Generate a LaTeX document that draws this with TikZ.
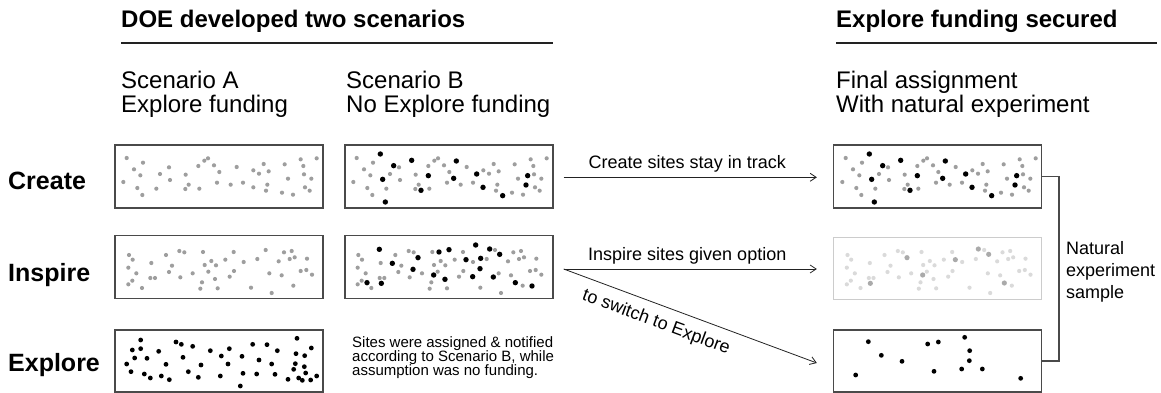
\documentclass[tikz,border=0pt]{standalone}
\usepackage{fontspec}
\setmainfont{Liberation Sans}
\usetikzlibrary{arrows.meta}

\definecolor{boxline}{HTML}{4A4A4A}
\definecolor{fadedline}{HTML}{CCCCCC}
\definecolor{dotgray}{HTML}{9E9E9E}
\definecolor{dotfaint}{HTML}{DADADA}
\definecolor{dotmid}{HTML}{AAAAAA}
\definecolor{inkline}{HTML}{222222}

% dot positions, in units of 1/3 px from the given origin
\def\creategray{50/54,99/68,72/88,91/106,40/126,82/144,97/165,139/146,150/102,177/82,180/120,227/104,236/134,226/147,268/146,265/78,283/62,294/55,312/76,328/96,321/128,362/134,380/81,399/128,430/91,447/101,461/72,476/94,472/134,468/152,430/142,516/158,524/73,534/116,549/164,572/58,580/78,582/103,604/116,585/142,599/152,620/55}
\def\createblack{121/42,161/77,128/118,136/186,215/61,265/107,243/151,349/63,341/115,410/102,429/142,488/167,563/107,558/135}
\def\inspiregray{57/75,68/89,55/113,79/130,67/152,55/163,96/174,124/99,121/144,135/144,168/75,186/107,177/126,208/63,223/67,211/142,248/130,279/66,284/105,304/93,318/106,295/125,315/147,276/157,271/176,323/175,346/89,371/66,372/123,359/140,401/96,423/173,442/87,467/60,478/130,485/189,506/94,515/136,522/67,545/63,539/87,554/82,550/167,572/123,589/120,591/86,606/134}
\def\inspireblack{118/58,157/100,234/83,219/118,81/158,124/160,297/66,327/59,281/135,315/148,378/89,407/45,422/85,420/116,398/140,449/57,479/73,460/141,526/158,576/168}
\def\switched{321/83,466/89,535/57,566/73,368/135,211/160,613/159}
\def\exploreblack{92/45,67/75,92/71,74/99,111/100,50/117,63/140,103/147,121/159,146/79,168/118,154/153,178/164,198/51,214/58,219/97,248/64,235/140,273/120,265/157,301/77,334/93,358/71,354/117,331/153,396/94,399/145,391/183,428/58,447/105,440/147,471/59,502/77,485/117,495/148,534/163,561/40,558/86,584/92,604/69,556/116,551/133,583/125,587/144,566/159,577/166,602/165,620/153}
\def\finalexplore{205/65,244/106,306/124,167/165,383/72,415/66,402/154,494/52,509/92,508/122,485/147,547/147,662/175}

\newcommand\drawdots[4]{%
  \begin{scope}[shift={(#1pt,-#2pt)},x=0.33333pt,y=-0.33333pt]
    \foreach \px/\py in #4 {\fill[#3] (\px,\py) circle;}
  \end{scope}}

\begin{document}
\begin{tikzpicture}[x=1pt,y=-1pt,
  panel/.style={draw=boxline,line width=1.3pt,minimum width=208pt,minimum height=63pt,inner sep=0pt},
  fadedpanel/.style={panel,draw=fadedline},
  graydot/.style={fill=dotgray,radius=2.1pt},
  faintdot/.style={fill=dotfaint,radius=2.1pt},
  middot/.style={fill=dotmid,radius=2.6pt},
  blackdot/.style={fill=black,radius=2.7pt},
  exdot/.style={fill=black,radius=2.4pt},
  heading/.style={font=\fontsize{24}{28}\selectfont\bfseries,anchor=base west,inner sep=0pt},
  rowlabel/.style={font=\fontsize{25}{30}\selectfont\bfseries,anchor=base west,inner sep=0pt},
  colhead/.style={font=\fontsize{24}{28}\selectfont,anchor=base west,inner sep=0pt},
  arrlabel/.style={font=\fontsize{18}{21}\selectfont},
  note/.style={font=\fontsize{15}{14}\selectfont,align=left,anchor=north west,inner sep=0pt},
  arr/.style={draw=inkline,line width=0.8pt,-{Straight Barb[length=6pt,width=8pt]}},
  rule/.style={draw=inkline,line width=1.5pt},
  bracket/.style={draw=boxline,line width=1.2pt}]

\useasboundingbox (0,0) rectangle (1161,393);

% headings
\node[heading] (h1) at (121,27.5) {DOE developed two scenarios};
\node[heading] (h2) at (836,27.5) {Explore funding secured};
\draw[rule] (121,43) -- (553,43);
\draw[rule] (836,43) -- (1157,43);

\node[colhead] (sa1) at (121,89) {Scenario A};
\node[colhead] (sa2) at (121,113) {Explore funding};
\node[colhead] (sb1) at (346,89) {Scenario B};
\node[colhead] (sb2) at (346,113) {No Explore funding};
\node[colhead] (sf1) at (836,89) {Final assignment};
\node[colhead] (sf2) at (836,113) {With natural experiment};

% row labels
\node[rowlabel] (rc) at (8,189) {Create};
\node[rowlabel] (ri) at (8,281) {Inspire};
\node[rowlabel] (re) at (8,371) {Explore};

% panels
\node[panel] (a1) at (219,176.5) {};
\node[panel] (b1) at (449,176.5) {};
\node[panel] (f1) at (937.5,176.5) {};
\node[panel] (a2) at (219,267) {};
\node[panel] (b2) at (449,267) {};
\node[fadedpanel,minimum height=62pt] (f2) at (937.5,268.5) {};
\node[panel,minimum height=62pt] (a3) at (219,361) {};
\node[panel,minimum height=62pt] (f3) at (937.5,361) {};

% dots: Create row
\drawdots{110}{140}{graydot}{\creategray}
\drawdots{340}{140}{graydot}{\creategray}
\drawdots{340}{140}{blackdot}{\createblack}
\drawdots{829}{140}{graydot}{\creategray}
\drawdots{829}{140}{blackdot}{\createblack}
% dots: Inspire row
\drawdots{110}{230}{graydot}{\inspiregray}
\drawdots{339.33}{230}{graydot}{\inspiregray}
\drawdots{340}{230}{blackdot}{\inspireblack}
\drawdots{828.5}{230}{faintdot}{\inspiregray}
\drawdots{800}{230}{middot}{\switched}
% dots: Explore row
\drawdots{110}{325}{exdot}{\exploreblack}
\drawdots{800}{320}{exdot}{\finalexplore}

% note under Scenario B
\node[note] (nt) at (352,336) {Sites were assigned \& notified\\according to Scenario B, while\\assumption was no funding.};

% connectors
\coordinate (split) at ([xshift=10pt,yshift=-2pt]b2.east);
\draw[arr] ([xshift=10pt,yshift=-0.8pt]b1.east) -- node[arrlabel,above=1pt,xshift=-3pt] {Create sites stay in track} ([xshift=-16pt,yshift=-0.8pt]f1.west);
\draw[arr] (split) -- node[arrlabel,above=1pt,xshift=-3pt] {Inspire sites given option} ([xshift=-16pt,yshift=-0.5pt]f2.west);
\draw[arr] (split) -- node[arrlabel,sloped,below=6pt,pos=0.39] {to switch to Explore} ([xshift=-16pt,yshift=-2pt]f3.west);

% bracket joining the natural experiment sample
\coordinate (brk) at (1059,0);
\draw[bracket] (f1.east) -| (brk |- f3.east) -- (f3.east);
\node[font=\fontsize{18}{22}\selectfont,align=left,anchor=west,inner sep=0pt] (nat) at (1066,272) {Natural\\experiment\\sample};

\end{tikzpicture}
\end{document}
